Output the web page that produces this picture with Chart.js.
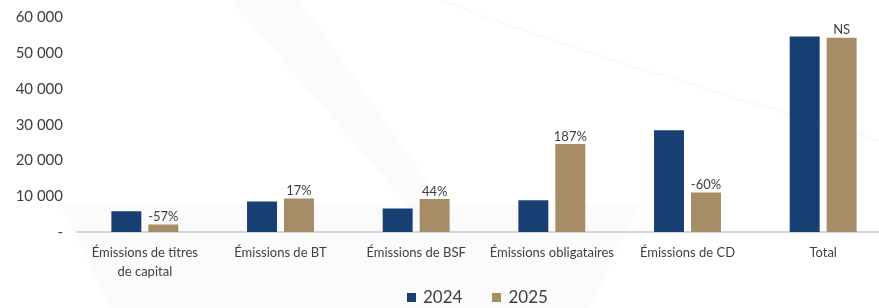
<!DOCTYPE html>
<html>
<head>
<meta charset="utf-8">
<script src="https://cdn.jsdelivr.net/npm/chart.js@4/dist/chart.umd.min.js"></script>
<style>
  html, body { margin:0; padding:0; background:#fff; overflow:hidden; }
  #wrap { position:relative; width:895px; height:308px; }
  #legend { position:absolute; top:286px; left:407px; font-family:Lato, sans-serif; font-size:17px; color:#404040; white-space:nowrap; }
  #legend span.sw { display:inline-block; width:9px; height:9px; margin-right:7px; vertical-align:1px; }
  #legend span.it { margin-right:30px; }
</style>
</head>
<body>
<div id="wrap">
  <canvas id="c" width="895" height="308"></canvas>
  <div id="legend"></div>
</div>
<script>
const categories = [
  ['Émissions de titres', 'de capital'],
  'Émissions de BT',
  'Émissions de BSF',
  'Émissions obligataires',
  'Émissions de CD',
  'Total'
];
const seriesNames = ['2024', '2025'];
const values2024 = [5800, 8500, 6550, 8880, 28470, 54700];
const values2025 = [2070, 9350, 9240, 24640, 11030, 54320];
const changeLabels = ['-57%', '17%', '44%', '187%', '-60%', 'NS'];
const yTicks = [0, 10000, 20000, 30000, 40000, 50000, 60000];

const colors = ['#173F74', '#A68D68'];
const textColor = '#404040';
const FONT = 'Lato, sans-serif';

document.getElementById('legend').innerHTML = seriesNames.map((n, i) =>
  `<span class="it"><span class="sw" style="background:${colors[i]}"></span>${n}</span>`).join('');

const bgPlugin = {
  id: 'bg',
  beforeDraw(chart) {
    const ctx = chart.ctx;
    ctx.save();
    ctx.fillStyle = 'rgba(0,0,0,0.015)';
    ctx.beginPath();
    ctx.moveTo(60, 205); ctx.lineTo(640, 205); ctx.lineTo(590, 308); ctx.lineTo(110, 308); ctx.closePath();
    ctx.fill();
    ctx.beginPath();
    ctx.moveTo(230, 0); ctx.lineTo(300, 0); ctx.lineTo(455, 220); ctx.lineTo(420, 220); ctx.closePath();
    ctx.fill();
    ctx.strokeStyle = 'rgba(0,0,0,0.025)';
    ctx.lineWidth = 2;
    ctx.beginPath();
    ctx.moveTo(440, 0); ctx.quadraticCurveTo(600, 60, 879, 140);
    ctx.stroke();
    ctx.restore();
  }
};

const labelPlugin = {
  id: 'changeLabels',
  afterDatasetsDraw(chart) {
    const ctx = chart.ctx;
    const meta = chart.getDatasetMeta(1);
    ctx.save();
    ctx.font = '13px ' + FONT;
    ctx.fillStyle = textColor;
    ctx.textAlign = 'center';
    ctx.textBaseline = 'bottom';
    meta.data.forEach((bar, i) => {
      ctx.fillText(changeLabels[i], bar.x, bar.y - 1);
    });
    ctx.restore();
  }
};

new Chart(document.getElementById('c'), {
  type: 'bar',
  data: {
    labels: categories,
    datasets: [
      { label: seriesNames[0], data: values2024, backgroundColor: colors[0] },
      { label: seriesNames[1], data: values2025, backgroundColor: colors[1] }
    ]
  },
  options: {
    responsive: false,
    animation: false,
    devicePixelRatio: 1,
    layout: { padding: { top: 17.5, right: 4, bottom: 30, left: 0 } },
    datasets: { bar: { categoryPercentage: 0.545, barPercentage: 0.81 } },
    plugins: { legend: { display: false }, tooltip: { enabled: false } },
    scales: {
      x: {
        grid: { display: false, drawTicks: false },
        border: { display: true, color: '#d6d6d6', width: 2 },
        ticks: { color: textColor, font: { family: FONT, size: 13, lineHeight: 1.5 }, maxRotation: 0, autoSkip: false, padding: 11 },
        afterFit(axis) { axis.height = 46; axis.paddingLeft = 0; axis.paddingRight = 0; }
      },
      y: {
        min: 0, max: 60000,
        afterBuildTicks(axis) { axis.ticks = yTicks.map(v => ({ value: v })); },
        grid: { display: false, drawTicks: false },
        border: { display: false },
        ticks: {
          color: textColor, font: { family: FONT, size: 15 }, padding: 14,
          callback: v => v === 0 ? '-' : v.toLocaleString('fr-FR').replace(/\s/g, ' ')
        },
        afterFit(axis) { axis.width = 77; axis.paddingTop = 0; axis.paddingBottom = 0; }
      }
    }
  },
  plugins: [bgPlugin, labelPlugin]
});
</script>
</body>
</html>
